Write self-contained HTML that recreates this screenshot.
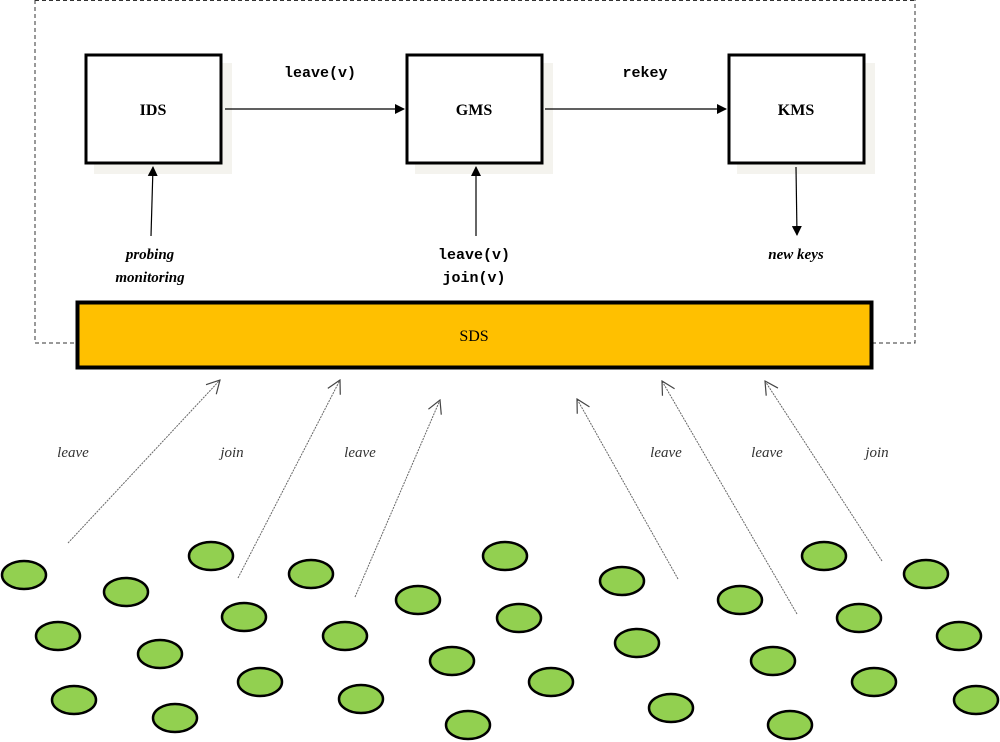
<!DOCTYPE html>
<html><head><style>body{margin:0;background:#fff}svg{display:block}</style></head><body>
<svg width="1000" height="742" viewBox="0 0 1000 742" xmlns="http://www.w3.org/2000/svg">
<defs>
<marker id="a" markerWidth="10" markerHeight="10" refX="9" refY="5" orient="auto" markerUnits="userSpaceOnUse"><path d="M0,0 L10,5 L0,10 z" fill="#000"/></marker>
<marker id="o" markerWidth="16" markerHeight="16" refX="15" refY="8" orient="auto" markerUnits="userSpaceOnUse"><path d="M2,1 L15,8 L2,15" fill="none" stroke="#444" stroke-width="1.2"/></marker>
</defs>
<path d="M35,0 V343 H77 M872,343 H915 V0" fill="none" stroke="#333" stroke-width="1" stroke-dasharray="4,3"/>
<line x1="35" y1="0.5" x2="915" y2="0.5" stroke="#333" stroke-dasharray="4,3"/>
<g fill="#f4f3ee">
<rect x="94" y="63" width="138" height="111"/><rect x="415" y="63" width="138" height="111"/><rect x="737" y="63" width="138" height="111"/>
</g>
<g fill="#fff" stroke="#000" stroke-width="3">
<rect x="86" y="55" width="135" height="108"/><rect x="407" y="55" width="135" height="108"/><rect x="729" y="55" width="135" height="108"/>
</g>
<g font-family="Liberation Serif, serif" font-weight="bold" font-size="16" text-anchor="middle">
<text x="153" y="115">IDS</text><text x="474" y="115">GMS</text><text x="796" y="115">KMS</text>
</g>
<g stroke="#000" stroke-width="1.2">
<line x1="225" y1="109" x2="404" y2="109" marker-end="url(#a)"/>
<line x1="545" y1="109" x2="726" y2="109" marker-end="url(#a)"/>
<line x1="151" y1="236" x2="153" y2="167" marker-end="url(#a)"/>
<line x1="476" y1="236" x2="476" y2="167" marker-end="url(#a)"/>
<line x1="796" y1="167" x2="797" y2="235" marker-end="url(#a)"/>
</g>
<g font-family="Liberation Mono, monospace" font-size="15" font-weight="bold" text-anchor="middle">
<text x="320" y="77">leave(v)</text><text x="645" y="77">rekey</text>
<text x="474" y="259">leave(v)</text><text x="474" y="282">join(v)</text>
</g>
<g font-family="Liberation Serif, serif" font-style="italic" font-weight="bold" font-size="15" text-anchor="middle">
<text x="150" y="259">probing</text><text x="150" y="282">monitoring</text><text x="796" y="259">new keys</text>
</g>
<rect x="77.5" y="302.5" width="794" height="65" fill="#ffc000" stroke="#000" stroke-width="4"/>
<text x="474" y="341" font-family="Liberation Serif, serif" font-size="16" text-anchor="middle">SDS</text>
<g stroke="#666" stroke-width="1" stroke-dasharray="2,1" marker-end="url(#o)">
<line x1="68" y1="543" x2="220" y2="380"/>
<line x1="238" y1="578" x2="340" y2="380"/>
<line x1="355" y1="597" x2="440" y2="400"/>
<line x1="678" y1="579" x2="577" y2="399"/>
<line x1="797" y1="614" x2="662" y2="381"/>
<line x1="882" y1="561" x2="765" y2="381"/>
</g>
<g font-family="Liberation Serif, serif" font-style="italic" font-size="15" fill="#333" text-anchor="middle">
<text x="73" y="457">leave</text><text x="232" y="457">join</text><text x="360" y="457">leave</text>
<text x="666" y="457">leave</text><text x="767" y="457">leave</text><text x="877" y="457">join</text>
</g>
<g fill="#92d050" stroke="#000" stroke-width="2.5">
<ellipse cx="24" cy="575" rx="22" ry="14"/><ellipse cx="126" cy="592" rx="22" ry="14"/><ellipse cx="211" cy="556" rx="22" ry="14"/>
<ellipse cx="58" cy="636" rx="22" ry="14"/><ellipse cx="160" cy="654" rx="22" ry="14"/><ellipse cx="244" cy="617" rx="22" ry="14"/>
<ellipse cx="74" cy="700" rx="22" ry="14"/><ellipse cx="175" cy="718" rx="22" ry="14"/><ellipse cx="260" cy="682" rx="22" ry="14"/>
<ellipse cx="311" cy="574" rx="22" ry="14"/><ellipse cx="345" cy="636" rx="22" ry="14"/><ellipse cx="361" cy="699" rx="22" ry="14"/>
<ellipse cx="418" cy="600" rx="22" ry="14"/><ellipse cx="452" cy="661" rx="22" ry="14"/><ellipse cx="468" cy="725" rx="22" ry="14"/>
<ellipse cx="505" cy="556" rx="22" ry="14"/><ellipse cx="519" cy="618" rx="22" ry="14"/><ellipse cx="551" cy="682" rx="22" ry="14"/>
<ellipse cx="622" cy="581" rx="22" ry="14"/><ellipse cx="637" cy="643" rx="22" ry="14"/><ellipse cx="671" cy="708" rx="22" ry="14"/>
<ellipse cx="740" cy="600" rx="22" ry="14"/><ellipse cx="773" cy="661" rx="22" ry="14"/><ellipse cx="790" cy="725" rx="22" ry="14"/>
<ellipse cx="824" cy="556" rx="22" ry="14"/><ellipse cx="859" cy="618" rx="22" ry="14"/><ellipse cx="874" cy="682" rx="22" ry="14"/>
<ellipse cx="926" cy="574" rx="22" ry="14"/><ellipse cx="959" cy="636" rx="22" ry="14"/><ellipse cx="976" cy="700" rx="22" ry="14"/>
</g>
</svg>
</body></html>
